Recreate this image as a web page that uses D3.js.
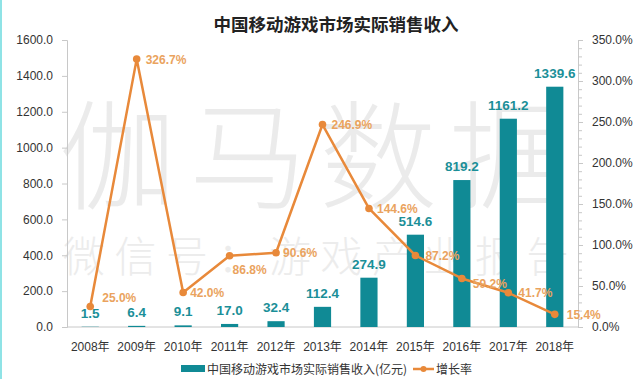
<!DOCTYPE html>
<html><head><meta charset="utf-8">
<script src="https://cdn.jsdelivr.net/npm/d3@7/dist/d3.min.js"></script>
<style>body{margin:0;background:#fff;}svg{display:block;}</style>
</head><body>
<script>
const years = ["2008年","2009年","2010年","2011年","2012年","2013年","2014年","2015年","2016年","2017年","2018年"];
const revenue = [1.5, 6.4, 9.1, 17.0, 32.4, 112.4, 274.9, 514.6, 819.2, 1161.2, 1339.6];
const growth = [25.0, 326.7, 42.0, 86.8, 90.6, 246.9, 144.6, 87.2, 59.2, 41.7, 15.4];
const leftTicks = [0, 200, 400, 600, 800, 1000, 1200, 1400, 1600];
const rightTicks = [0, 50, 100, 150, 200, 250, 300, 350];
const title = "中国移动游戏市场实际销售收入";
const legendBar = "中国移动游戏市场实际销售收入(亿元)";
const legendLine = "增长率";
// layout-only label nudges [dx, dy] for growth labels
const growthLabelNudge = [[12,-9],[9,0],[7,0],[3,14],[7,0],[9,0],[8,0],[10,0],[11,5],[10,0],[12,0]];

const W = 644, H = 379;
const m = {left: 67, right: 66, top: 40, bottom: 52};
const svg = d3.select("body").append("svg").attr("width", W).attr("height", H);
const font = "'Liberation Sans', 'Noto Sans CJK SC', sans-serif";
const cjk = "'Noto Sans CJK SC', 'Liberation Sans', sans-serif";

svg.append("rect").attr("x",0).attr("y",0).attr("width",2).attr("height",H).attr("fill","#8fe3e6");

const x = d3.scaleBand().domain(years).range([m.left, W - m.right]).paddingInner(0.63).paddingOuter(0.315);
const xc = d => x(d) + x.bandwidth()/2;
const yL = d3.scaleLinear().domain([0,1600]).range([H - m.bottom, m.top]);
const yR = d3.scaleLinear().domain([0,350]).range([H - m.bottom, m.top]);

// watermark
const wm = svg.append("g").attr("fill","#e4e4e4").attr("font-family", cjk);
["伽","马","数","据"].forEach((c,i)=>{
  wm.append("text").attr("x", 118 + i*130).attr("y", 200).attr("text-anchor","middle")
    .attr("font-size", 118).attr("font-weight", 300).attr("fill-opacity",0.75).text(c);
});
["微","信","号","：","游","戏","产","业","报","告"].forEach((c,i)=>{
  wm.append("text").attr("x", 84 + i*51.5).attr("y", 272).attr("text-anchor","middle")
    .attr("font-size", 42).attr("font-weight", 300).attr("fill", "#ececec").text(c);
});

svg.append("text").attr("x", 336).attr("y", 31).attr("text-anchor","middle")
  .attr("font-family", cjk).attr("font-size", 17.5).attr("font-weight", 700).attr("fill","#222").text(title);

// left axis
const gL = svg.append("g").attr("transform",`translate(${m.left},0)`)
  .call(d3.axisLeft(yL).tickValues(leftTicks).tickFormat(d3.format(".1f")).tickSize(5).tickPadding(9));
gL.select(".domain").attr("stroke","#c8c8c8");
gL.selectAll(".tick line").attr("stroke","#c8c8c8");
gL.selectAll("text").attr("font-family", font).attr("font-size", 12).attr("fill","#333");

// right axis
const gRm = svg.append("g").attr("transform",`translate(${W - m.right},0)`)
  .call(d3.axisRight(yR).tickValues(d3.range(0,351,10)).tickFormat("").tickSize(4));
gRm.select(".domain").attr("stroke","#c8c8c8");
gRm.selectAll(".tick line").attr("stroke","#c8c8c8");
const gR = svg.append("g").attr("transform",`translate(${W - m.right},0)`)
  .call(d3.axisRight(yR).tickValues(rightTicks).tickFormat(d => d3.format(".1f")(d) + "%").tickSize(5).tickPadding(9));
gR.select(".domain").remove();
gR.selectAll(".tick line").attr("stroke","#c8c8c8");
gR.selectAll("text").attr("font-family", font).attr("font-size", 12).attr("fill","#333");

// x axis
svg.append("line").attr("x1", m.left).attr("x2", W - m.right).attr("y1", yL(0)).attr("y2", yL(0)).attr("stroke","#c8c8c8");
svg.append("g").selectAll("text").data(years).join("text")
  .attr("x", d => xc(d)).attr("y", 351).attr("text-anchor","middle")
  .attr("font-family", font).attr("font-size", 12).attr("fill","#333").text(d => d);

// bars
const barColor = "#108a95";
svg.append("g").selectAll("rect").data(years).join("rect")
  .attr("x", d => x(d)).attr("width", x.bandwidth())
  .attr("y", (d,i) => yL(revenue[i])).attr("height", (d,i) => yL(0) - yL(revenue[i]))
  .attr("fill", barColor);
svg.append("g").selectAll("text").data(years).join("text")
  .attr("x", d => xc(d)).attr("y", (d,i) => yL(revenue[i]) - 9).attr("text-anchor","middle")
  .attr("font-family", font).attr("font-size", 13.5).attr("font-weight", 700).attr("fill","#1b8f98")
  .text((d,i) => revenue[i].toFixed(1));

// line
const lineColor = "#e8893a";
const line = d3.line().x((d,i) => xc(years[i])).y(d => yR(d));
svg.append("path").datum(growth).attr("d", line).attr("fill","none")
  .attr("stroke", lineColor).attr("stroke-width", 2.5).attr("stroke-linejoin","round");
svg.append("g").selectAll("circle").data(growth).join("circle")
  .attr("cx", (d,i) => xc(years[i])).attr("cy", d => yR(d)).attr("r", 3.8).attr("fill", lineColor);
svg.append("g").selectAll("text").data(growth).join("text")
  .attr("x", (d,i) => xc(years[i]) + growthLabelNudge[i][0])
  .attr("y", (d,i) => yR(d) + growthLabelNudge[i][1] + 4.5)
  .attr("font-family", font).attr("font-size", 12).attr("font-weight", 700).attr("fill","#eaa35e")
  .text(d => d.toFixed(1) + "%");

// legend
const ly = 369;
svg.append("rect").attr("x", 181).attr("y", ly - 4).attr("width", 24).attr("height", 7).attr("fill", barColor);
svg.append("text").attr("x", 207).attr("y", ly + 4.5).attr("font-family", cjk).attr("font-size", 12).attr("fill","#333").text(legendBar);
svg.append("line").attr("x1", 413).attr("x2", 434).attr("y1", ly).attr("y2", ly).attr("stroke", lineColor).attr("stroke-width", 2.5);
svg.append("circle").attr("cx", 423.5).attr("cy", ly).attr("r", 3).attr("fill", lineColor);
svg.append("text").attr("x", 436).attr("y", ly + 4.5).attr("font-family", cjk).attr("font-size", 12).attr("fill","#333").text(legendLine);
</script>
</body></html>
